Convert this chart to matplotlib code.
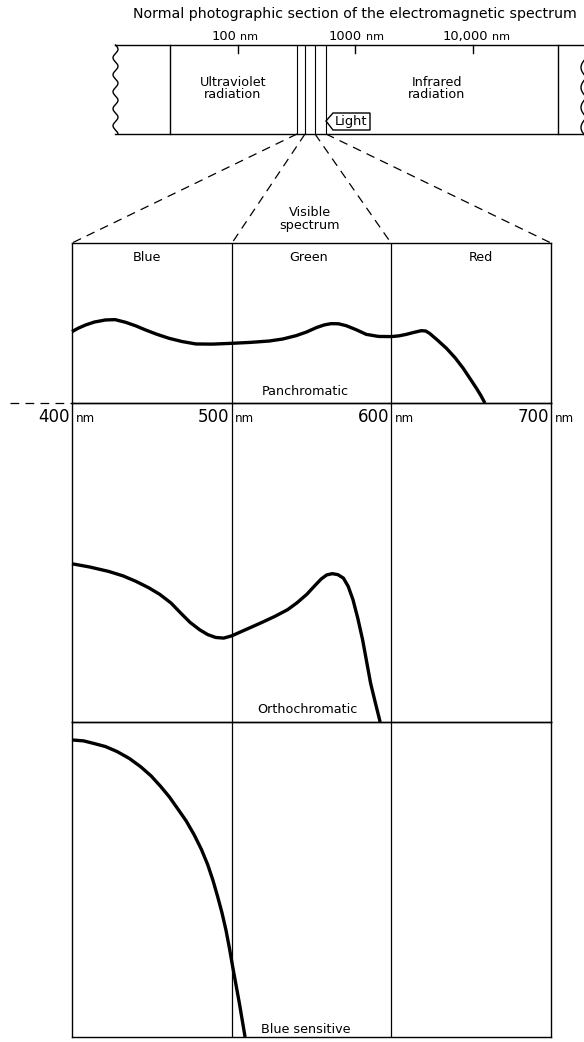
import numpy as np
import matplotlib
matplotlib.use('Agg')
import matplotlib.pyplot as plt
from matplotlib.patches import Polygon

# ---------------- data ----------------
pan_nm = [400, 404, 408.6, 414, 421, 427, 433.7, 440, 446.2, 453, 460.9, 469,
          477.6, 488, 500, 512, 523.6, 532, 540.4, 547, 553, 558, 562.3, 567,
          571.8, 578, 584.3, 592, 600, 605, 609.4, 614, 618.8, 621.5, 624,
          629, 634.5, 640, 645, 649, 653.3, 656, 658.6]
pan_sens = [0.446, 0.468, 0.488, 0.506, 0.519, 0.521, 0.504, 0.482, 0.456,
            0.430, 0.404, 0.384, 0.369, 0.368, 0.373, 0.379, 0.3875, 0.400,
            0.421, 0.444, 0.471, 0.488, 0.496, 0.495, 0.483, 0.458, 0.429,
            0.416, 0.415, 0.420, 0.429, 0.441, 0.452, 0.450, 0.435, 0.392,
            0.342, 0.282, 0.217, 0.157, 0.092, 0.048, 0.0]

ortho_nm = [400, 411, 423, 432, 440, 448, 455, 462, 468, 474, 480, 485, 490,
            495, 500, 509, 518, 527, 535, 541, 547, 552, 556, 559.5, 563,
            566.5, 570, 573, 576, 579, 582, 584.5, 587, 590, 593]
ortho_sens = [0.496, 0.486, 0.472, 0.458, 0.441, 0.421, 0.40, 0.373, 0.342,
              0.312, 0.289, 0.274, 0.265, 0.263, 0.27, 0.29, 0.31, 0.331,
              0.352, 0.374, 0.40, 0.427, 0.448, 0.461, 0.465, 0.462, 0.451,
              0.425, 0.383, 0.325, 0.258, 0.19, 0.122, 0.06, 0.0]

blue_nm = [400, 407.3, 413.6, 421, 428.3, 436, 443, 449.5, 455.6, 461, 466,
           471.5, 476.5, 481, 485, 488.3, 491.2, 494, 496.4, 498.6, 500.6,
           502.7, 504.8, 506.6, 508.4]
blue_sens = [0.943, 0.940, 0.932, 0.922, 0.906, 0.884, 0.858, 0.829, 0.795,
             0.762, 0.726, 0.686, 0.642, 0.596, 0.547, 0.497, 0.446, 0.393,
             0.340, 0.282, 0.224, 0.166, 0.108, 0.054, 0.0]

band_names = ['Blue', 'Green', 'Red']
band_label_nm = [447, 548, 656]
boundary_nm = [400, 500, 600, 700]
film_labels = ['Panchromatic', 'Orthochromatic', 'Blue sensitive']
em_tick_labels = ['100', '1000', '10,000']
region_labels = ['Ultraviolet\nradiation', 'Infrared\nradiation']
title = 'Normal photographic section of the electromagnetic spectrum'

# ---------------- figure ----------------
W, H = 584, 1042
plt.rcParams['font.family'] = ['DejaVu Sans']
fig = plt.figure(figsize=(W / 100, H / 100), dpi=100)
fig.patch.set_facecolor('white')

deco = fig.add_axes([0, 0, 1, 1])
deco.set_xlim(0, W)
deco.set_ylim(H, 0)
deco.axis('off')

LW = 1.0
K = 'black'

# ---- top spectrum bar ----
bar_top, bar_bot = 45, 134
deco.plot([115, W], [bar_top, bar_top], color=K, lw=LW)
deco.plot([115, W], [bar_bot, bar_bot], color=K, lw=LW)
yy = np.linspace(bar_top, bar_bot, 200)
deco.plot(115.5 + 2.5 * np.sin(2 * np.pi * (yy - bar_top) / 17.0), yy, color=K, lw=LW)
for y0 in [58, 78, 98, 118]:
    t = np.linspace(0, 1, 40)
    deco.plot(586 - 5 * np.sin(np.pi * t), y0 + 19 * t, color=K, lw=LW, clip_on=False)
for x in [170, 558]:
    deco.plot([x, x], [bar_top, bar_bot], color=K, lw=LW)
for x in [297, 305, 315, 326]:
    deco.plot([x, x], [bar_top, bar_bot], color=K, lw=0.8)
for x in [238, 355, 473]:
    deco.plot([x, x], [bar_top, bar_top + 8], color=K, lw=LW)

deco.text(355, 18, title, ha='center', va='baseline', fontsize=10.2)
for lab, xr in zip(em_tick_labels, [236, 362, 488]):
    deco.text(xr, 40, lab, ha='right', va='baseline', fontsize=9.4)
    deco.text(xr + 4, 40, 'nm', ha='left', va='baseline', fontsize=8)
deco.text(233, 88.5, region_labels[0], ha='center', va='center', fontsize=9.2,
          linespacing=1.0)
deco.text(437, 88.5, region_labels[1], ha='center', va='center', fontsize=9.2,
          linespacing=1.0)

# Light tag
tag = Polygon([[326, 121], [333, 113], [370, 113], [370, 130], [333, 130]],
              closed=True, fill=True, facecolor='white', edgecolor=K, lw=LW)
deco.add_patch(tag)
deco.text(351.5, 122, 'Light', ha='center', va='center', fontsize=9.4)

# dashed projection lines
grid_x = [72, 232, 391, 551]
for xs, xg in zip([297, 305, 315, 326], grid_x):
    deco.plot([xs, xg], [bar_bot, 243], color=K, lw=0.9, dashes=(7, 5))
deco.text(310, 218.5, 'Visible\nspectrum', ha='center', va='center',
          fontsize=9.2, linespacing=1.0)

# left dashed line at the 400 nm baseline
deco.plot([10, 72], [403, 403], color=K, lw=0.9, dashes=(7, 5))

# ---------------- panels ----------------
def panel(top, bottom):
    ax = fig.add_axes([72 / W, 1 - bottom / H, (551 - 72) / W, (bottom - top) / H])
    ax.set_xlim(boundary_nm[0], boundary_nm[-1])
    ax.set_ylim(0, 1)
    ax.set_xticks([])
    ax.set_yticks([])
    ax.patch.set_alpha(0)
    for s in ax.spines.values():
        s.set_linewidth(LW)
    for b in boundary_nm[1:-1]:
        ax.axvline(b, color=K, lw=0.9)
    return ax

ax1 = panel(243, 403)
ax2 = panel(403, 722)
ax3 = panel(722, 1037)

curve_kw = dict(color=K, lw=2.4, solid_joinstyle='round', solid_capstyle='butt',
                clip_on=False)
ax1.plot(pan_nm, pan_sens, **curve_kw)
ax2.plot(ortho_nm, ortho_sens, **curve_kw)
ax3.plot(blue_nm, blue_sens, **curve_kw)

for name, xn in zip(band_names, band_label_nm):
    ax1.text(xn, 0.91, name, ha='center', va='center', fontsize=9.2)

ax1.text(546, 0.07, film_labels[0], ha='center', va='center', fontsize=9.2)
ax2.text(547.5, 0.038, film_labels[1], ha='center', va='center', fontsize=9.2)
ax3.text(546.5, 0.024, film_labels[2], ha='center', va='center', fontsize=9.2)

# wavelength labels under the panchromatic panel
for b in boundary_nm:
    ax1.annotate(str(b), xy=(b, 0), xytext=(-1.5, -13.5), textcoords='offset points',
                 ha='right', va='baseline', fontsize=12)
    ax1.annotate('nm', xy=(b, 0), xytext=(2.5, -13.5), textcoords='offset points',
                 ha='left', va='baseline', fontsize=8.6)

fig.savefig('out.png', dpi=100, facecolor='white')
